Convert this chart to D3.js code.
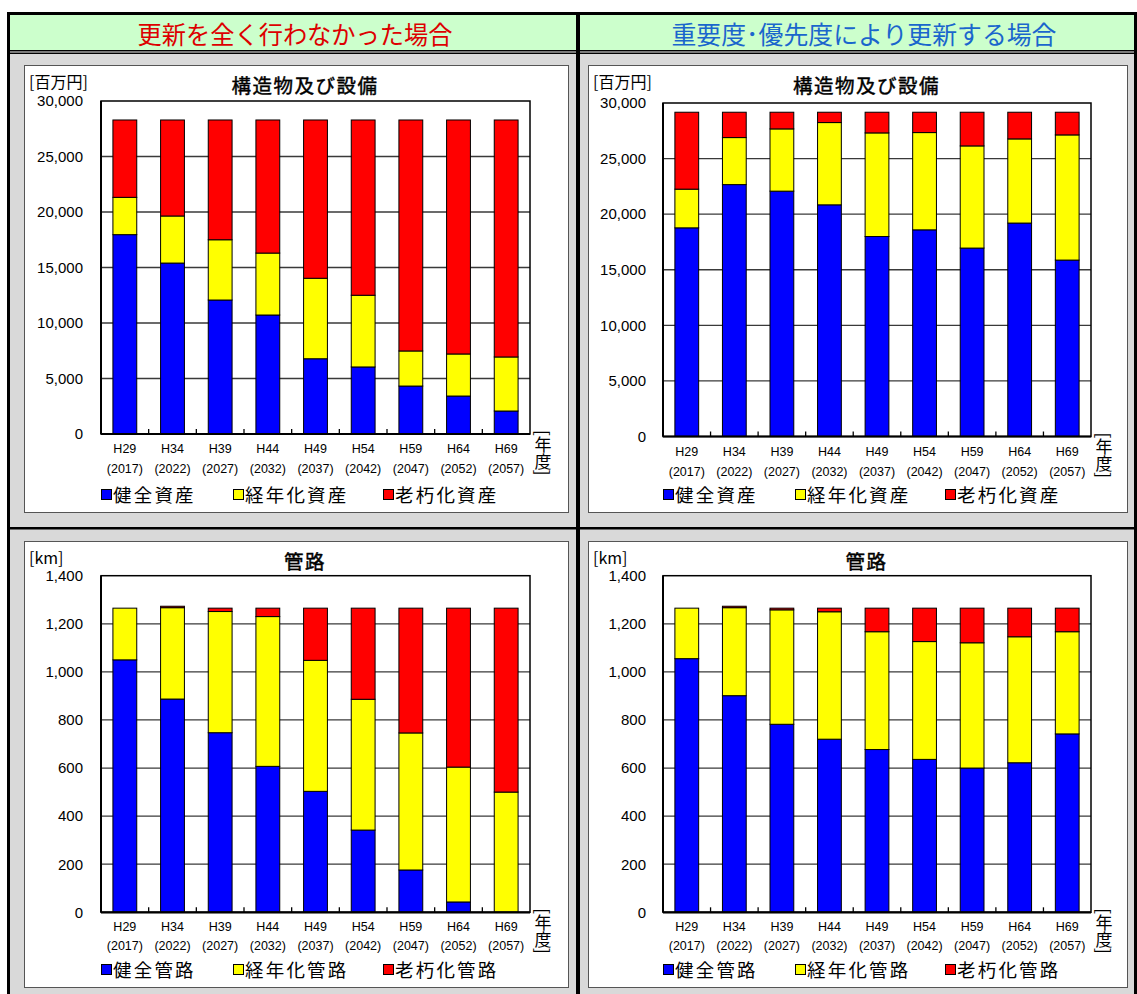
<!DOCTYPE html>
<html>
<head>
<meta charset="utf-8">
<script src="https://cdn.jsdelivr.net/npm/d3@7"></script>
<style>
  html, body { margin: 0; padding: 0; background: #ffffff; }
  svg { display: block; }
</style>
</head>
<body>
<svg id="chart" width="1137" height="994"></svg>
<script>
// ---- categories ----
const fiscalLabels = ["H29", "H34", "H39", "H44", "H49", "H54", "H59", "H64", "H69"];
const calendarLabels = ["(2017)", "(2022)", "(2027)", "(2032)", "(2037)", "(2042)", "(2047)", "(2052)", "(2057)"];

// ---- 構造物及び設備 [百万円] : 更新を全く行わなかった場合 ----
const facilitySoundNone = [17960, 15400, 12070, 10720, 6780, 6040, 4320, 3420, 2070];
const facilityAgedNone  = [3360, 4240, 5430, 5580, 7250, 6460, 3160, 3790, 4870];
const facilityOldNone   = [6970, 8650, 10790, 11990, 14260, 15790, 20810, 21080, 21350];

// ---- 構造物及び設備 [百万円] : 重要度・優先度により更新する場合 ----
const facilitySoundPlan = [18770, 22660, 22070, 20840, 17990, 18590, 16950, 19200, 15870];
const facilityAgedPlan  = [3480, 4230, 5600, 7400, 9320, 8750, 9190, 7570, 11260];
const facilityOldPlan   = [6920, 2280, 1500, 930, 1860, 1830, 3030, 2400, 2040];

// ---- 管路 [km] : 更新を全く行わなかった場合 ----
const pipeSoundNone = [1050, 887, 747, 607, 503, 342, 176, 43, 0];
const pipeAgedNone  = [215, 380, 504, 623, 545, 544, 570, 561, 500];
const pipeOldNone   = [0, 6, 14, 35, 217, 379, 519, 661, 765];

// ---- 管路 [km] : 重要度・優先度により更新する場合 ----
const pipeSoundPlan = [1055, 901, 782, 720, 677, 636, 600, 622, 742];
const pipeAgedPlan  = [210, 366, 476, 530, 490, 490, 521, 524, 425];
const pipeOldPlan   = [0, 6, 7, 15, 98, 139, 144, 119, 98];

// ---- axis ticks ----
const facilityTicks = [0, 5000, 10000, 15000, 20000, 25000, 30000];
const pipeTicks = [0, 200, 400, 600, 800, 1000, 1200, 1400];

// ---- series ----
const seriesKeys = ["sound", "aged", "old"];
const seriesColors = ["#0000ff", "#ffff00", "#ff0000"];
const facilityLegend = ["健全資産", "経年化資産", "老朽化資産"];
const pipeLegend = ["健全管路", "経年化管路", "老朽化管路"];

const headerLeft = "更新を全く行わなかった場合";
const headerRight = "重要度･優先度により更新する場合";

const JP = "'Noto Sans CJK JP', 'Noto Sans', sans-serif";
const NUM = "'Liberation Sans', Arial, sans-serif";

const svg = d3.select("#chart");

// ---------- frame ----------
svg.append("rect").attr("x", 10).attr("y", 54).attr("width", 1124).attr("height", 940).attr("fill", "#d9d9d9");
svg.append("rect").attr("x", 10).attr("y", 15).attr("width", 1124).attr("height", 35).attr("fill", "#ccffcc");
svg.append("rect").attr("x", 10).attr("y", 51.5).attr("width", 1124).attr("height", 1).attr("fill", "#e8e8e8");
const black = [
  [7, 12, 1130, 3],      // top border
  [7, 12, 3, 982],       // left border
  [1134, 12, 3, 982],    // right border
  [576, 12, 4, 982],     // column divider
  [10, 50, 1124, 1.5],   // header double rule
  [10, 52.5, 1124, 1.5],
  [10, 527, 1124, 2.5]   // row divider
];
svg.selectAll("rect.rule").data(black).join("rect")
  .attr("class", "rule")
  .attr("x", d => d[0]).attr("y", d => d[1])
  .attr("width", d => d[2]).attr("height", d => d[3])
  .attr("fill", "#000");

svg.append("text").attr("x", 295).attr("y", 44)
  .attr("text-anchor", "middle").attr("font-family", JP).attr("font-size", 25)
  .attr("fill", "#dd0000").attr("textLength", 315).attr("lengthAdjust", "spacingAndGlyphs")
  .text(headerLeft);
svg.append("text").attr("x", 864).attr("y", 44)
  .attr("text-anchor", "middle").attr("font-family", JP).attr("font-size", 25)
  .attr("fill", "#1a66cc").attr("textLength", 385).attr("lengthAdjust", "spacingAndGlyphs")
  .text(headerRight);

// ---------- one stacked-bar panel ----------
function drawPanel(o) {
  const g = svg.append("g");
  g.append("rect").attr("x", o.box[0] + 0.5).attr("y", o.box[1] + 0.5)
    .attr("width", o.box[2]).attr("height", o.box[3])
    .attr("fill", "#fff").attr("stroke", "#555").attr("stroke-width", 1);

  const rows = fiscalLabels.map((lab, i) => ({
    label: lab, sound: o.sound[i], aged: o.aged[i], old: o.old[i]
  }));
  const yMax = o.ticks[o.ticks.length - 1];
  const y = d3.scaleLinear().domain([0, yMax]).range([o.bottom, o.top]);
  const x = d3.scaleBand().domain(fiscalLabels).range([o.left, o.right])
    .paddingInner(0.5).paddingOuter(0.25);

  // gridlines
  g.selectAll("line.grid").data(o.ticks.filter(t => t > 0 && t < yMax)).join("line")
    .attr("class", "grid")
    .attr("x1", o.left).attr("x2", o.right)
    .attr("y1", d => y(d)).attr("y2", d => y(d))
    .attr("stroke", "#3a3a3a").attr("stroke-width", 1.3);

  // y axis labels
  const yAxis = d3.axisLeft(y).tickValues(o.ticks).tickFormat(d3.format(","))
    .tickSize(0).tickPadding(o.left - o.tickRight);
  const ya = g.append("g").attr("transform", `translate(${o.left},0)`).call(yAxis);
  ya.select(".domain").remove();
  ya.selectAll("text").attr("font-family", NUM).attr("font-size", 15).attr("fill", "#000");

  // stacked bars
  const stacked = d3.stack().keys(seriesKeys)(rows);
  g.selectAll("g.series").data(stacked).join("g")
    .attr("class", "series")
    .attr("fill", (d, i) => seriesColors[i])
    .selectAll("rect").data(d => d.filter(p => p[1] - p[0] > 0)).join("rect")
    .attr("x", d => x(d.data.label))
    .attr("width", x.bandwidth())
    .attr("y", d => y(d[1]))
    .attr("height", d => y(d[0]) - y(d[1]))
    .attr("stroke", "#000").attr("stroke-width", 1);

  // plot frame
  g.append("rect").attr("x", o.left).attr("y", o.top)
    .attr("width", o.right - o.left).attr("height", o.bottom - o.top)
    .attr("fill", "none").attr("stroke", "#000").attr("stroke-width", 1.5);
  g.append("line").attr("x1", o.left).attr("x2", o.right)
    .attr("y1", o.bottom).attr("y2", o.bottom)
    .attr("stroke", "#000").attr("stroke-width", 2.2);
  g.append("line").attr("x1", o.left).attr("x2", o.left)
    .attr("y1", o.top).attr("y2", o.bottom)
    .attr("stroke", "#000").attr("stroke-width", 2);

  // category separators on the x axis
  g.selectAll("line.xtick").data(fiscalLabels.slice(1)).join("line")
    .attr("class", "xtick")
    .attr("x1", d => x(d) - x.step() * x.paddingInner() / 2)
    .attr("x2", d => x(d) - x.step() * x.paddingInner() / 2)
    .attr("y1", o.bottom).attr("y2", o.bottom - 5)
    .attr("stroke", "#000").attr("stroke-width", 1.3);

  // x labels
  const xl = g.selectAll("g.xlab").data(fiscalLabels).join("g")
    .attr("class", "xlab")
    .attr("transform", d => `translate(${x(d) + x.bandwidth() / 2},0)`);
  xl.append("text").attr("y", o.bottom + o.lab1)
    .attr("text-anchor", "middle").attr("font-family", NUM).attr("font-size", 12.5)
    .text(d => d);
  xl.append("text").attr("y", o.bottom + o.lab2)
    .attr("text-anchor", "middle").attr("font-family", NUM).attr("font-size", 12.5)
    .text((d, i) => calendarLabels[i]);

  // x unit, written vertically
  g.append("text").attr("x", o.right + 13).attr("y", o.bottom - 4)
    .attr("font-family", JP).attr("font-size", 17)
    .style("writing-mode", "vertical-rl")
    .text("[年度]");

  // y unit and title
  g.append("text").attr("x", o.box[0] + 5).attr("y", o.box[1] + 23)
    .attr("font-family", JP).attr("font-size", 16).text(o.unit);
  g.append("text").attr("x", o.box[0] + o.box[2] / 2 + 9).attr("y", o.box[1] + 28)
    .attr("text-anchor", "middle").attr("font-family", JP).attr("font-size", 19.5)
    .attr("stroke", "#000").attr("stroke-width", 0.45)
    .attr("letter-spacing", 1.5).text(o.title);

  // legend
  const lg = g.selectAll("g.leg").data(o.legend).join("g")
    .attr("class", "leg")
    .attr("transform", (d, i) => `translate(${o.left + [0, 132, 282][i]},${o.legendY})`);
  lg.append("rect").attr("x", 0.5).attr("y", -10.5).attr("width", 10).attr("height", 10)
    .attr("fill", (d, i) => seriesColors[i]).attr("stroke", "#000").attr("stroke-width", 1);
  lg.append("text").attr("x", 12).attr("y", 1.5)
    .attr("font-family", JP).attr("font-size", 18.5).attr("letter-spacing", 2.2)
    .text(d => d);
}

drawPanel({
  box: [24, 65, 544, 447], left: 101, right: 530, top: 101, bottom: 434, tickRight: 83,
  lab1: 19, lab2: 39, legendY: 500,
  ticks: facilityTicks, unit: "[百万円]", title: "構造物及び設備", legend: facilityLegend,
  sound: facilitySoundNone, aged: facilityAgedNone, old: facilityOldNone
});
drawPanel({
  box: [588, 65, 539, 447], left: 663, right: 1091, top: 103, bottom: 436.5, tickRight: 646,
  lab1: 19, lab2: 39, legendY: 500,
  ticks: facilityTicks, unit: "[百万円]", title: "構造物及び設備", legend: facilityLegend,
  sound: facilitySoundPlan, aged: facilityAgedPlan, old: facilityOldPlan
});
drawPanel({
  box: [24, 541, 544, 446], left: 101, right: 530, top: 575.7, bottom: 912.3, tickRight: 83,
  lab1: 18.5, lab2: 38, legendY: 975,
  ticks: pipeTicks, unit: "[km]", title: "管路", legend: pipeLegend,
  sound: pipeSoundNone, aged: pipeAgedNone, old: pipeOldNone
});
drawPanel({
  box: [588, 541, 539, 446], left: 663, right: 1091, top: 575.7, bottom: 912.3, tickRight: 646,
  lab1: 18.5, lab2: 38, legendY: 975,
  ticks: pipeTicks, unit: "[km]", title: "管路", legend: pipeLegend,
  sound: pipeSoundPlan, aged: pipeAgedPlan, old: pipeOldPlan
});
</script>
</body>
</html>
